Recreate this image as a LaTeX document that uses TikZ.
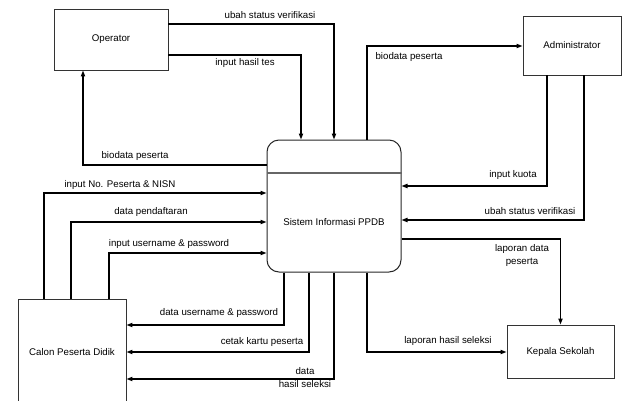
\documentclass[tikz,border=0pt]{standalone}
\usepackage{fontspec}
\setmainfont{Liberation Sans}
\usetikzlibrary{arrows.meta,calc}
\begin{document}
\begin{tikzpicture}[x=1pt,y=-1pt,
  every node/.style={font=\fontsize{9.7}{13}\selectfont},
  ent/.style={draw=black!80,line width=0.9pt,rectangle,inner sep=0pt},
  proc/.style={draw=black!85,line width=1pt,rectangle,rounded corners=12pt,inner sep=0pt},
  flow/.style={line width=1.3pt,-{Triangle[length=6pt,width=4.2pt]}},
  lbl/.style={inner sep=0pt,align=center}]
\useasboundingbox (0,0) rectangle (622,400);
% entities
\node[ent,minimum width=114pt,minimum height=61pt] (op) at (111,39.5) {Operator};
\node[ent,minimum width=98pt,minimum height=59pt] (adm) at (572,45.5) {Administrator};
\node[ent,minimum width=107pt,minimum height=53pt] (kep) at (560.5,351.5) {Kepala Sekolah};
\node[ent,minimum width=108pt,minimum height=106pt] (calon) at (72,352) {Calon Peserta Didik};
% process
\node[proc,minimum width=134pt,minimum height=132pt] (sys) at (334,206) {};
\draw[black!60,line width=1.2pt] (sys.west |- 0,173) -- (sys.east |- 0,173);
\node (systxt) at (334,222) {Sistem Informasi PPDB};
% flows: operator
\draw[flow] (op.east |- 0,24) -| (sys.north);
\draw[flow] (op.east |- 0,55) -| (sys.north -| 301,0);
\draw[flow] (sys.west |- 0,165) -| (op.south -| 83,0);
% administrator
\draw[flow] (sys.north -| 367,0) |- (adm.west |- 0,46);
\draw[flow] (adm.south -| 547,0) |- (sys.east |- 0,186);
\draw[flow] (adm.south -| 584,0) |- (sys.east |- 0,220);
% kepala sekolah
\draw[flow] (sys.east |- 0,239) -| (kep.north);
\draw[flow] (sys.south -| 367,0) |- (kep.west |- 0,352);
% calon peserta didik
\draw[flow] (calon.north -| 44,0) |- (sys.west |- 0,193);
\draw[flow] (calon.north -| 71,0) |- (sys.west |- 0,222);
\draw[flow] (calon.north -| 109,0) |- (sys.west |- 0,253);
\draw[flow] (sys.south -| 284,0) |- (calon.east |- 0,325);
\draw[flow] (sys.south -| 309,0) |- (calon.east |- 0,352);
\draw[flow] (sys.south) |- (calon.east |- 0,379);
% labels
\node[lbl] (l1) at (270,15) {ubah status verifikasi};
\node[lbl] (l2) at (245,63) {input hasil tes};
\node[lbl] (l3) at (135,156) {biodata peserta};
\node[lbl] (l4) at (409,57) {biodata peserta};
\node[lbl] (l5) at (513,175) {input kuota};
\node[lbl] (l6) at (530,211) {ubah status verifikasi};
\node[lbl] (l7) at (522,255) {laporan data\\peserta};
\node[lbl] (l8) at (448,341) {laporan hasil seleksi};
\node[lbl] (l9) at (120,185) {input No. Peserta \& NISN};
\node[lbl] (l10) at (151,212) {data pendaftaran};
\node[lbl] (l11) at (169,244) {input username \& password};
\node[lbl] (l12) at (219,313) {data username \& password};
\node[lbl] (l13) at (262,342) {cetak kartu peserta};
\node[lbl] (l14) at (305,378) {data\\hasil seleksi};
\end{tikzpicture}
\end{document}
